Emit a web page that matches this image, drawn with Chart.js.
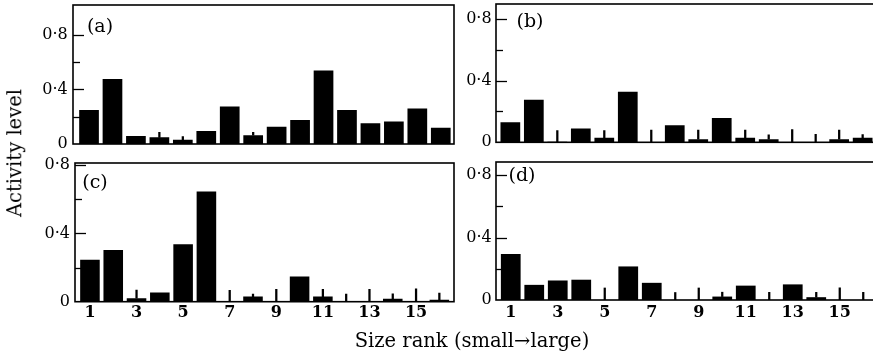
<!DOCTYPE html>
<html><head><meta charset="utf-8">
<script src="https://cdn.jsdelivr.net/npm/chart.js@4"></script>
<style>
html,body{margin:0;padding:0;background:#fff;overflow:hidden;width:873px;height:358px;position:relative;}
canvas{position:absolute;}
.lbl{position:absolute;font-family:"DejaVu Serif",serif;color:#000;white-space:nowrap;line-height:1;}
#ylab{left:15px;top:153px;font-size:19.5px;transform:translate(-50%,-50%) rotate(-90deg);}
#xlab{left:472px;top:341px;font-size:19.5px;transform:translate(-50%,-50%);}
</style></head><body>
<canvas id="pa"></canvas><canvas id="pb"></canvas><canvas id="pc"></canvas><canvas id="pd"></canvas>
<div id="ylab" class="lbl">Activity level</div>
<div id="xlab" class="lbl">Size rank (small→large)</div>
<script>
// ---- data ----
const categories = ['1','2','3','4','5','6','7','8','9','10','11','12','13','14','15','16'];
const xTickLabels = ['1','3','5','7','9','11','13','15'];
const yTickValues = [0, 0.4, 0.8];
const yTickLabels = ['0', '0·4', '0·8'];
const panelLabels = ['(a)', '(b)', '(c)', '(d)'];

const valuesA = [0.25, 0.477, 0.059, 0.049, 0.032, 0.095, 0.276, 0.064, 0.127, 0.176, 0.54, 0.25, 0.152, 0.166, 0.26, 0.12];
const errTopA = [null, null, null, 0.086, 0.054, null, null, 0.086, null, null, null, null, null, null, null, null];

const valuesB = [0.13, 0.276, 0.003, 0.089, 0.03, 0.328, 0, 0.11, 0.02, 0.157, 0.03, 0.02, 0, 0, 0.02, 0.03];
const errTopB = [null, null, 0.076, null, 0.076, null, 0.08, null, 0.08, null, 0.08, 0.048, 0.082, 0.052, 0.08, 0.05];

const valuesC = [0.245, 0.303, 0.02, 0.054, 0.336, 0.645, 0, 0.03, 0, 0.147, 0.03, 0, 0, 0.018, 0, 0.012];
const errTopC = [null, null, 0.068, null, null, null, 0.066, 0.045, 0.073, null, 0.073, 0.045, 0.073, 0.046, 0.076, 0.05];

const valuesD = [0.295, 0.097, 0.125, 0.13, 0, 0.215, 0.11, 0, 0, 0.022, 0.092, 0, 0.1, 0.018, 0, 0];
const errTopD = [null, null, null, null, 0.077, null, null, 0.048, 0.077, 0.05, null, 0.049, null, 0.049, 0.078, 0.049];

// ---- layout (page pixels) ----
const panels = [
  {id:'pa', vals:valuesA, err:errTopA, label:panelLabels[0], yMax:1.02, showX:false,
   frame:{l:73, t:5, r:454, b:144}, bars:{l:77.3, r:452.5}, tickPad:9.5, lab:{dx:27, dy:22}},
  {id:'pb', vals:valuesB, err:errTopB, label:panelLabels[1], yMax:0.898, showX:false,
   frame:{l:496, t:4, r:878, b:142.3}, bars:{l:498.6, r:874.4}, tickPad:7, lab:{dx:34, dy:18}},
  {id:'pc', vals:valuesC, err:errTopC, label:panelLabels[2], yMax:0.812, showX:true,
   frame:{l:75, t:163, r:454, b:301.7}, bars:{l:78.3, r:451}, tickPad:8.3, lab:{dx:20, dy:20}, xPad:2},
  {id:'pd', vals:valuesD, err:errTopD, label:panelLabels[3], yMax:0.884, showX:true,
   frame:{l:496, t:162, r:878, b:300}, bars:{l:499, r:875}, tickPad:7.3, lab:{dx:26, dy:14}, xPad:3.5}
];

const FONT = '"DejaVu Serif", serif';
const PAD = 26;

const framePlugin = {
  id: 'frameTicks',
  afterDraw(chart, args, opts) {
    const p = opts.panel;
    const ctx = chart.ctx;
    const ca = chart.chartArea;
    const y = chart.scales.y;
    const fl = ca.left - (p.bars.l - p.frame.l);
    const fr = ca.right + (p.frame.r - p.bars.r);
    ctx.save();
    ctx.strokeStyle = '#000';
    ctx.lineWidth = 1.3;
    [0.2, 0.4, 0.6, 0.8].forEach(v => {
      const py = Math.round(y.getPixelForValue(v)) + 0.5;
      const major = yTickValues.some(t => Math.abs(t - v) < 1e-6);
      ctx.beginPath();
      ctx.moveTo(fl, py);
      ctx.lineTo(fl + (major ? 11 : 7), py);
      ctx.stroke();
    });
    ctx.lineWidth = 1.6;
    ctx.strokeRect(fl, ca.top, fr - fl, ca.bottom - ca.top);
    ctx.fillStyle = '#000';
    ctx.font = '19px ' + FONT;
    ctx.textAlign = 'center';
    ctx.textBaseline = 'middle';
    ctx.fillText(p.label, fl + p.lab.dx, ca.top + p.lab.dy);
    ctx.restore();
  }
};

panels.forEach(p => {
  const cl = Math.round(p.frame.l - 50);
  const ct = Math.round(p.frame.t - PAD);
  const cw = Math.round(p.bars.r + 8 - cl);
  const xH = 28;
  const ch = Math.round(p.frame.b + (p.showX ? xH : PAD) - ct);
  const cv = document.getElementById(p.id);
  cv.width = cw; cv.height = ch;
  cv.style.left = cl + 'px'; cv.style.top = ct + 'px';
  cv.style.width = cw + 'px'; cv.style.height = ch + 'px';
  const yW = p.bars.l - cl;
  const padTop = p.frame.t - ct;
  const padRight = cw - (p.bars.r - cl);
  const padBottom = p.showX ? (ch - (p.frame.b - ct) - xH) : (ch - (p.frame.b - ct));

  new Chart(cv, {
    type: 'bar',
    data: {
      labels: categories,
      datasets: [
        {data: p.vals, backgroundColor: '#000', borderWidth: 0, barPercentage: 0.84, categoryPercentage: 1, grouped: false, order: 2},
        {data: p.err.map((t, i) => t == null ? null : [p.vals[i], t]), backgroundColor: '#000', borderWidth: 0, barThickness: 1.6, grouped: false, order: 1}
      ]
    },
    options: {
      responsive: false,
      animation: false,
      devicePixelRatio: 1,
      layout: {padding: {left: 0, top: padTop, right: padRight, bottom: padBottom}},
      plugins: {legend: {display: false}, tooltip: {enabled: false}, frameTicks: {panel: p}},
      scales: {
        x: {
          display: p.showX,
          grid: {display: false, drawTicks: false},
          border: {display: false},
          ticks: {
            color: '#000', padding: p.xPad || 0, maxRotation: 0, autoSkip: false,
            font: {family: FONT, size: 16, weight: 'bold'},
            callback: (val, idx) => xTickLabels.includes(categories[idx]) ? categories[idx] : ''
          },
          afterFit: s => { if (p.showX) s.height = xH; }
        },
        y: {
          min: 0, max: p.yMax,
          grid: {display: false, drawTicks: false},
          border: {display: false},
          ticks: {
            stepSize: 0.2, includeBounds: false, color: '#000', padding: p.tickPad, autoSkip: false,
            font: {family: FONT, size: 16},
            callback: v => {
              const i = yTickValues.findIndex(t => Math.abs(t - v) < 1e-6);
              return i >= 0 ? yTickLabels[i] : '';
            }
          },
          afterFit: s => { s.width = yW; }
        }
      }
    },
    plugins: [framePlugin]
  });
});
</script>
</body></html>
